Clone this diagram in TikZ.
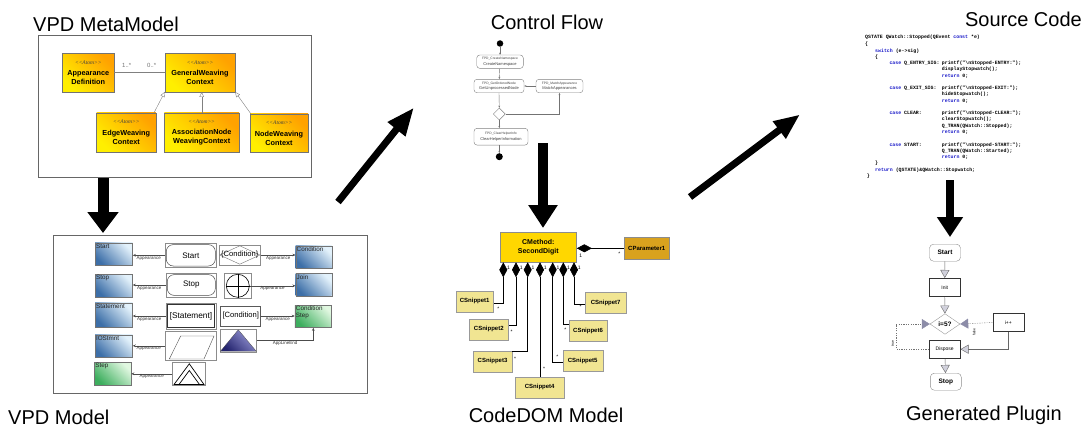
\documentclass[tikz,border=0pt]{standalone}
\usepackage{fontspec}
\setmainfont{Liberation Sans}
\newfontfamily\serifit{Liberation Serif}
\setmonofont{Liberation Mono}
\usetikzlibrary{arrows.meta,calc,shapes.geometric}
\definecolor{ylw}{HTML}{FFEF00}
\definecolor{org}{HTML}{FFA200}
\definecolor{bdk}{HTML}{3D6FA8}
\definecolor{blt}{HTML}{E2F1FB}
\definecolor{gdk}{HTML}{3DAE5E}
\definecolor{glt}{HTML}{E0F7E0}
\definecolor{goldc}{HTML}{FFD700}
\definecolor{gdrod}{HTML}{D9A21E}
\definecolor{khak}{HTML}{F1E592}
\definecolor{kwc}{HTML}{1A1AC8}
\definecolor{navya}{HTML}{24246E}
\definecolor{navyb}{HTML}{9A9AD8}
\definecolor{tipg}{HTML}{8C8CA8}
\newcommand\fsz[2]{\fontsize{#1}{#2}\selectfont}
\newcommand\stereo{\serifit\itshape\mdseries\fsz{5.5}{6.5}\color{black!75}}
\newcommand\kw[1]{\textcolor{kwc}{#1}}
\newcommand\atom{{\stereo\textless\textless Atom\textgreater\textgreater}}
\begin{document}
\begin{tikzpicture}[x=1pt,y=-1pt,
  every node/.style={inner sep=0pt},
  ttl/.style={font=\fsz{20}{24}, anchor=base},
  cls/.style={draw=black!55, line width=0.4pt, bottom color=ylw, top color=org, shading angle=-45, align=center, font=\fsz{7.3}{8.6}\bfseries},
  inh/.style={draw=black!50, line width=0.4pt, -{Triangle[open,length=5pt,width=4.5pt]}},
  frm/.style={draw=black!45, line width=0.4pt},
  bbox/.style={draw=black!55, line width=0.4pt, bottom color=bdk, top color=blt, shading angle=-45, minimum width=37.5pt, minimum height=22.5pt},
  gbox/.style={bbox, bottom color=gdk, top color=glt, shading angle=-45},
  blbl/.style={anchor=north west, inner sep=1pt, align=left, font=\fsz{6.3}{7}, text=black!85},
  app/.style={draw=black!70, line width=0.45pt, -{Stealth[length=3pt,width=2.6pt]}},
  applbl/.style={font=\fsz{4.5}{5}, text=black!80},
  cf/.style={draw=black!50, line width=0.4pt, rounded corners=3pt, align=center, font=\fsz{4}{4.6}, text=black!75},
  cfa/.style={draw=black!55, line width=0.4pt, -{Stealth[length=2.2pt,width=1.8pt]}},
  snip/.style={draw=black!40, line width=0.4pt, fill=khak, font=\fsz{6}{7}\bfseries, minimum height=21pt},
  comp/.style={draw=black, line width=0.6pt, {Diamond[length=15pt,width=8pt]}-},
  mult/.style={font=\fsz{5}{6}},
  code/.style={anchor=base west, font=\ttfamily\bfseries\fsz{4.9}{5}},
  gpb/.style={draw=black!45, line width=0.4pt, minimum width=31pt, minimum height=17pt},
  gt/.style={draw=black!60, line width=0.4pt, -{Triangle[length=8pt,width=9pt,fill=tipg!40,color=black!60]}},
  dsh/.style={draw=black!55, line width=0.4pt, dash pattern=on 1.2pt off 1.2pt, -{Triangle[length=8pt,width=10pt,fill=tipg,color=tipg]}},
]
\useasboundingbox (0,0) rectangle (1084,428);
% ---------- titles
\node[ttl, anchor=base west] (t1) at (33,31.5) {VPD MetaModel};
\node[ttl] (t2) at (547,30) {Control Flow};
\node[ttl, anchor=base east] (t3) at (1082,27) {Source Code};
\node[ttl, anchor=base west] (t4) at (8,424) {VPD Model};
\node[ttl] (t5) at (546,422) {CodeDOM Model};
\node[ttl] (t6) at (984,420) {Generated Plugin};
% ---------- VPD MetaModel
\node[draw=black!60, line width=0.6pt, minimum width=273pt, minimum height=142pt] (mm) at (174.5,106) {};
\node[cls, minimum width=51.3pt, minimum height=38.4pt] (ad) at (88.3,72.5) {\atom\\[3pt]Appearance\\Definition};
\node[cls, minimum width=70pt, minimum height=38.4pt] (gw) at (200,72.5) {\atom\\[3pt]GeneralWeaving\\Context};
\node[cls, minimum width=59.3pt, minimum height=39pt] (ew) at (126.3,132.2) {\atom\\[3pt]EdgeWeaving\\Context};
\node[cls, minimum width=74.7pt, minimum height=39pt] (an) at (201.7,132.2) {\atom\\[3pt]AssociationNode\\WeavingContext};
\node[cls, minimum width=58pt, minimum height=38.7pt] (nw) at (279,133.3) {\atom\\[3pt]NodeWeaving\\Context};
\draw[black!50, line width=0.5pt] (ad.east) -- (gw.west);
\node[font=\fsz{6}{7}, text=black!55] (m1) at (126.7,65) {1..*};
\node[font=\fsz{6}{7}, text=black!55] (m2) at (151.7,65) {0..*};
\draw[inh] ($(ew.north east)+(-2,0)$) -- (gw.south west);
\draw[inh] (an.north) -- (an.north |- gw.south);
\draw[inh] ($(nw.north west)+(1,0)$) -- (gw.south east);
% ---------- big arrows
\coordinate (a1s) at (103,178); \coordinate (a1e) at (103,233);
\draw[line width=11pt, -{Triangle[length=21pt,width=30pt]}] (a1s) -- (a1e);
\coordinate (a2s) at (338,202); \coordinate (a2e) at (414,107.5);
\draw[line width=7pt, -{Triangle[length=28pt,width=21pt]}] (a2s) -- (a2e);
\coordinate (a3s) at (690,197); \coordinate (a3e) at (800,114.5);
\draw[line width=7pt, -{Triangle[length=26pt,width=20pt]}] (a3s) -- (a3e);
\coordinate (a4s) at (543,143); \coordinate (a4e) at (543,228);
\draw[line width=9.5pt, -{Triangle[length=23pt,width=28pt]}] (a4s) -- (a4e);
\coordinate (a5s) at (950,180); \coordinate (a5e) at (950,237);
\draw[line width=8pt, -{Triangle[length=20pt,width=25pt]}] (a5s) -- (a5e);
% ---------- VPD Model
\node[draw=black!60, line width=0.6pt, minimum width=314pt, minimum height=158pt] (vm) at (210,314) {};
\node[bbox] (sb) at (113.8,254.2) {}; \node[blbl] at (sb.north west) {Start};
\node[bbox] (stb) at (113.8,285.5) {}; \node[blbl] at (stb.north west) {Stop};
\node[bbox, minimum height=24pt] (smb) at (113.8,314.7) {}; \node[blbl] at (smb.north west) {Statement};
\node[bbox] (iob) at (113.8,346.2) {}; \node[blbl] at (iob.north west) {IOStmnt};
\node[gbox, minimum width=36.7pt] (spb) at (112.7,373.8) {}; \node[blbl] at (spb.north west) {Step};
\node[bbox, minimum width=36pt] (cb) at (313.7,257) {}; \node[blbl] at (cb.north west) {Condition};
\node[bbox, minimum width=36pt] (jb) at (313.7,284.7) {}; \node[blbl] at (jb.north west) {Join};
\node[gbox, minimum width=36.7pt] (csb) at (313.3,316.3) {}; \node[blbl] at (csb.north west) {Condition\\Step};
% frames
\node[frm, minimum width=51.7pt, minimum height=24pt] (f1) at (190.8,255.3) {};
\draw[black!70, line width=0.5pt, rounded corners=7pt] ($(f1.north west)+(1.5,1.5)$) rectangle ($(f1.south east)+(-1.5,-1.5)$);
\node[font=\fsz{8}{9}] at (f1) {Start};
\node[frm, minimum width=41.7pt, minimum height=20pt] (f2) at (239.8,255) {};
\draw[black!55, line width=0.4pt] ($(f2.north)+(0,1)$) -- ($(f2.east)+(-1,0)$) -- ($(f2.south)+(0,-1)$) -- ($(f2.west)+(1,0)$) -- cycle;
\node[font=\fsz{7.6}{9}] at (f2) {\{Condition\}};
\node[frm, minimum width=50.7pt, minimum height=23.4pt] (f3) at (191.3,285) {};
\draw[black!70, line width=0.5pt, rounded corners=7pt] ($(f3.north west)+(1.5,1.5)$) rectangle ($(f3.south east)+(-1.5,-1.5)$);
\node[font=\fsz{8}{9}] at (f3) {Stop};
\node[frm, minimum width=27.7pt, minimum height=25pt] (f4) at (237.8,285.8) {};
\node[circle, draw=black, line width=0.6pt, minimum size=23pt] (ci) at (f4) {};
\draw[black, line width=0.6pt] (ci.north) -- (ci.south) (ci.west) -- (ci.east);
\node[frm, minimum width=50pt, minimum height=26.6pt] (f5) at (191,316) {};
\draw[black!80, line width=1.1pt] ($(f5.north west)+(2,2)$) rectangle ($(f5.south east)+(-2,-2)$);
\node[font=\fsz{8.3}{9}] at (f5) {[Statement]};
\node[draw=black!65, line width=0.5pt, minimum width=40pt, minimum height=20pt, font=\fsz{7.6}{9}] (f6) at (240.7,316) {[Condition]};
\node[frm, minimum width=51.7pt, minimum height=28.3pt] (f7) at (190.8,345.8) {};
\draw[black!70, line width=0.4pt] (180.7,336) -- (214,336) -- (204,359) -- (169.3,359) -- cycle;
\node[frm, minimum width=36.7pt, minimum height=22.4pt] (f8) at (238.3,340.5) {};
\shade[bottom color=navya, top color=navyb, shading angle=-45, draw=black!70, line width=0.3pt] (238.3,329.8) -- (256.2,351.2) -- (220.5,351.2) -- cycle;
\node[frm, minimum width=32.3pt, minimum height=22.3pt] (f9) at (188.8,373.8) {};
\draw[black, line width=0.7pt, line join=miter] (174,384.5) -- (189.3,363.8) -- (204,384.5) -- cycle;
\draw[black, line width=0.7pt] (179,384.5) -- (189.3,370.5) -- (199.5,384.5);
% appearance links
\draw[app] (f1.west) -- (f1.west -| sb.east) node[applbl, midway, below=0.8pt] {Appearance};
\draw[app] (f2.east) -- (f2.east -| cb.west) node[applbl, midway, below=0.8pt] {Appearance};
\draw[app] (f3.west) -- (f3.west -| stb.east) node[applbl, midway, below=0.8pt] {Appearance};
\draw[app] (ci.east) -- (ci.east -| jb.west) node[applbl, midway, below=0.8pt] {Appearance};
\draw[app] (f5.west) -- (f5.west -| smb.east) node[applbl, midway, below=0.8pt] {Appearance};
\draw[app] (f6.east) -- (f6.east -| csb.west) node[applbl, midway, below=0.8pt] {Appearance};
\draw[app] (f7.west) -- (f7.west -| iob.east) node[applbl, midway, below=0.8pt] {Appearance};
\draw[app] (f8.east) -- (f8.east -| csb.south) node[applbl, midway, below=0.8pt] {AppLineEnd} -- (csb.south);
\draw[app] (f9.west) -- (f9.west -| spb.east) node[applbl, midway, below=0.8pt] {Appearance};
% ---------- Control Flow
\node[circle, fill=black, minimum size=6.5pt] (c0) at (500,43.5) {};
\node[cf, minimum width=46.6pt, minimum height=13.3pt] (c1) at (500,61.7) {{\fsz{3.3}{4}FPD\_CreateNamespace}\\[0.8pt]CreateNamespace};
\node[cf, minimum width=50pt, minimum height=13.4pt] (c2) at (499,86) {{\fsz{3.3}{4}FPD\_GetOrderedNode}\\[0.8pt]GetUnprocessedNode};
\node[cf, minimum width=47pt, minimum height=13.4pt] (c3) at (559.5,86) {{\fsz{3.3}{4}FPD\_MatchAppearance}\\[0.8pt]MatchAppearances};
\node[diamond, aspect=1, draw=black!50, line width=0.4pt, minimum width=12pt, minimum height=12pt] (cd) at (499.3,114) {};
\node[cf, minimum width=54pt, minimum height=16.7pt] (c4) at (501,136.7) {{\fsz{3.3}{4}FPD\_ClearHelperInfo}\\[0.8pt]ClearHelperInformation};
\node[circle, fill=black, minimum size=7pt] (c5) at (499.3,156.7) {};
\draw[cfa] (c0) -- (c1);
\draw[cfa] (c1) -- (c2);
\draw[cfa] (c2.south) -- (cd.north);
\draw[cfa] (cd.south) -- (cd.south |- c4.north);
\draw[cfa] (c5 |- c4.south) -- (c5);
\draw[cfa] (c3) -- (c2);
\draw[cfa] (cd.east) -| (c3.south);
% ---------- CodeDOM
\node[draw=black!45, line width=0.4pt, fill=goldc, minimum width=76.7pt, minimum height=30pt, align=center, font=\fsz{7}{8.5}\bfseries] (cm) at (538.3,247.3) {CMethod:\\SecondDigit};
\node[draw=black!45, line width=0.4pt, fill=gdrod, minimum width=45.3pt, minimum height=21.3pt, font=\fsz{6}{7}\bfseries] (cp) at (646.7,248.3) {CParameter1};
\draw[comp] (cm.east |- cp.west) -- (cp.west);
\node[mult] (ma) at (580.7,256) {1};
\node[mult] (mb) at (619.3,254) {*};
\foreach \i/\x in {1/503.3,2/516,3/527.7,4/540,5/552.7,6/563.3,7/574}{
  \coordinate (d\i) at (\x,262.3);
  \node[mult] (n\i) at (\x+5.3,267.5) {1};
}
\node[snip, minimum width=37.3pt] (s1) at (474.7,301.3) {CSnippet1};
\node[snip, minimum width=39pt] (s2) at (488.8,329.2) {CSnippet2};
\node[snip, minimum width=38.4pt] (s3) at (492.5,361.3) {CSnippet3};
\node[snip, minimum width=49.3pt] (s4) at (539.7,387.2) {CSnippet4};
\node[snip, minimum width=40pt] (s5) at (582.7,360.8) {CSnippet5};
\node[snip, minimum width=37.4pt] (s6) at (588,330.5) {CSnippet6};
\node[snip, minimum width=40.7pt] (s7) at (605.7,303) {CSnippet7};
\draw[comp] (d1) |- ($(s1.east)+(0,2)$);
\draw[comp] (d2) |- ($(s2.east)+(0,-4)$);
\draw[comp] (d3) |- ($(s3.north east)+(0,1)$);
\draw[comp] (d4) -- (d4 |- s4.north);
\draw[comp] (d5) |- ($(s5.west)+(0,1)$);
\draw[comp] (d6) |- ($(s6.west)+(0,-6)$);
\draw[comp] (d7) |- ($(s7.west)+(0,1.3)$);
\node[mult] (x1) at (498.3,309) {*};
\node[mult] (x2) at (511.7,332) {*};
\node[mult] (x3) at (515,358.5) {*};
\node[mult] (x4) at (544,369) {*};
\node[mult] (x5) at (557.3,356.5) {*};
\node[mult] (x6) at (565.3,330) {*};
\node[mult] (x7) at (580.7,306.5) {*};
% ---------- Source code
\node[code] (k1) at (865,39) {QSTATE QWatch::Stopped(QEvent \kw{const} *e)};
\node[code] (k2) at (865,45.6) {\{};
\node[code] (k3) at (875,52.3) {\kw{switch} (e->sig)};
\node[code] (k4) at (875,58.9) {\{};
\node[code] (k5) at (889.3,64.9) {\kw{case} Q\_ENTRY\_SIG:};
\node[code] (k6) at (941.7,64.9) {printf("\textbackslash nStopped-ENTRY:");};
\node[code] (k7) at (941.7,70.9) {displayStopwatch();};
\node[code] (k8) at (941.7,77.3) {\kw{return} 0;};
\node[code] (k9) at (889.3,89.9) {\kw{case} Q\_EXIT\_SIG:};
\node[code] (k10) at (941.7,89.9) {printf("\textbackslash nStopped-EXIT:");};
\node[code] (k11) at (941.7,95.9) {hideStopwatch();};
\node[code] (k12) at (941.7,102.3) {\kw{return} 0;};
\node[code] (k13) at (889.3,114.9) {\kw{case} CLEAR:};
\node[code] (k14) at (941.7,114.9) {printf("\textbackslash nStopped-CLEAR:");};
\node[code] (k15) at (941.7,120.9) {clearStopwatch();};
\node[code] (k16) at (941.7,127.6) {Q\_TRAN(QWatch::Stopped);};
\node[code] (k17) at (941.7,133.6) {\kw{return} 0;};
\node[code] (k18) at (889.3,146.3) {\kw{case} START:};
\node[code] (k19) at (941.7,146.3) {printf("\textbackslash nStopped-START:");};
\node[code] (k20) at (941.7,152.3) {Q\_TRAN(QWatch::Started);};
\node[code] (k21) at (941.7,158.6) {\kw{return} 0;};
\node[code] (k22) at (875,164.9) {\}};
\node[code] (k23) at (875,171.6) {\kw{return} (QSTATE)\&QWatch::Stopwatch;};
\node[code] (k24) at (866.7,177.6) {\}};
% ---------- Generated plugin
\node[gpb, rounded corners=4pt, font=\fsz{6.5}{7}\bfseries] (g1) at (945,252.7) {Start};
\node[gpb, draw=black!80, line width=0.6pt, minimum height=18.4pt, font=\fsz{5}{6}] (g2) at (944.7,287.5) {Init};
\node[diamond, aspect=1.45, draw=black!40, line width=0.4pt, minimum width=30pt, minimum height=20.6pt, font=\fsz{6.5}{7}\bfseries] (g3) at (945,324) {i=5?};
\node[gpb, draw=black!80, line width=0.6pt, minimum height=18.4pt, font=\fsz{5}{6}] (g4) at (1008.3,322.5) {i++};
\node[gpb, draw=black!80, line width=0.6pt, minimum height=18.3pt, font=\fsz{5}{6}] (g5) at (944.7,349.2) {Dispose};
\node[gpb, rounded corners=4pt, font=\fsz{6.5}{7}\bfseries] (g6) at (945.8,381.7) {Stop};
\draw[gt] (g1) -- (g2);
\draw[gt] (g2) -- (g3);
\draw[gt] (g5) -- (g6);
\draw[gt] (g4.south) |- (g5.east);
\draw[dsh] (g4.west) -- (g3.east);
\draw[dsh] (g5.west) -- ++(-32.6,0) |- (g3.west);
\node[font=\fsz{3.5}{4}, rotate=90] (l1) at (974,332) {false};
\node[font=\fsz{3.5}{4}, rotate=90] (l2) at (892.7,343.3) {true};
\end{tikzpicture}
\end{document}
